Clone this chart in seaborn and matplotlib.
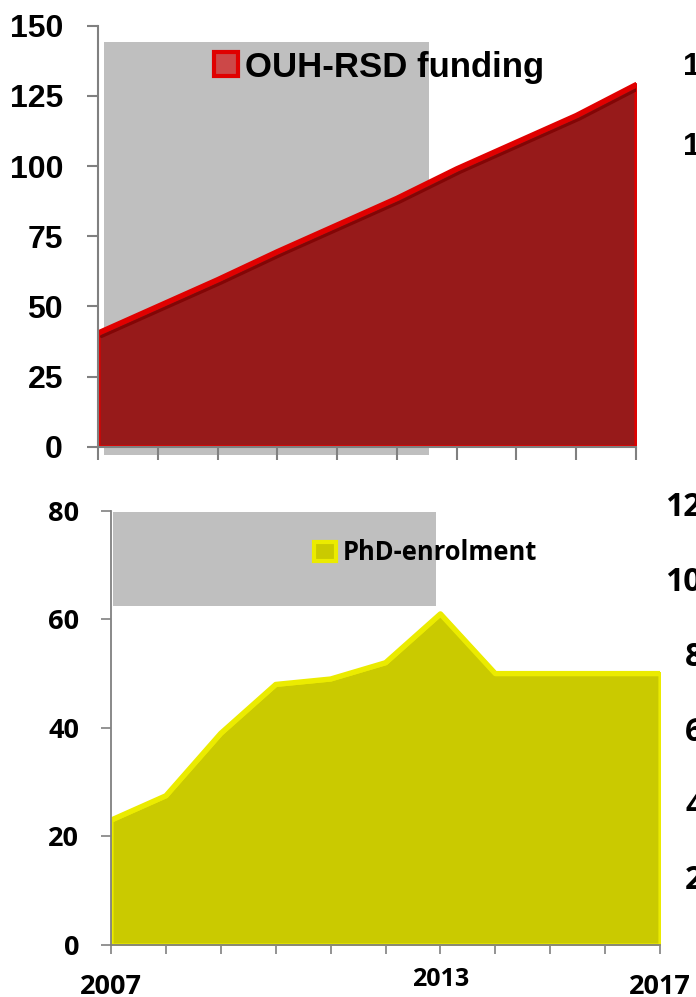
import matplotlib
matplotlib.use("Agg")
import matplotlib.pyplot as plt
import matplotlib.transforms as mtransforms
from matplotlib.patches import Rectangle, Patch
import seaborn as sns
import pandas as pd

# ---------------- data ----------------
funding_years = [2008, 2009, 2010, 2011, 2012, 2013, 2014, 2015, 2016, 2017]
funding_values = [40.5, 50, 59.5, 69.5, 79, 88.5, 99, 108.5, 118, 129]
funding_yticks = [0, 25, 50, 75, 100, 125, 150]
funding_label = "OUH-RSD funding"

phd_years = [2007, 2008, 2009, 2010, 2011, 2012, 2013, 2014, 2015, 2016, 2017]
phd_values = [23, 27.5, 39, 48, 49, 52, 61, 50, 50, 50, 50]
phd_yticks = [0, 20, 40, 60, 80]
phd_major_labels = ["2007", "", "", "", "", "", "", "", "", "", "2017"]
phd_minor_years = [2013]
phd_minor_labels = ["2013"]
phd_label = "PhD-enrolment"

# cut-off labels of neighbouring charts (right edge)
right_top_labels = ["1", "1"]
right_bottom_labels = ["120", "100", "80", "60", "40", "20"]

# ---------------- layout helpers ----------------
W, H = 696, 997
sns.set_theme(style="white")
fig = plt.figure(figsize=(W / 100, H / 100), dpi=100)


def fx(px):
    return px / W


def fy(py):
    return 1 - py / H


GREY = "#BFBFBF"
AXC = "#808080"
TOPFONT = "Liberation Sans"
BOTFONT = "Open Sans"

# grey boxes behind legends
fig.add_artist(Rectangle((fx(104), fy(455)), (429 - 104) / W, (455 - 42) / H,
                         transform=fig.transFigure, facecolor=GREY,
                         edgecolor="none", zorder=-5))
fig.add_artist(Rectangle((fx(113), fy(606)), (436 - 113) / W, (606 - 512) / H,
                         transform=fig.transFigure, facecolor=GREY,
                         edgecolor="none", zorder=-5))

# ---------------- top panel ----------------
ax1 = fig.add_axes([fx(98), fy(446.7), (636 - 98) / W, (446.7 - 25.7) / H])
ax1.set_facecolor("none")
df1 = pd.DataFrame({"year": funding_years, "value": funding_values})
ax1.fill_between(df1["year"], 0, df1["value"], facecolor="#971A1A",
                 edgecolor="#E00000", linewidth=3.0, zorder=1)
shadow = mtransforms.offset_copy(ax1.transData, fig=fig, x=3.5, y=-3.5, units="dots")
ax1.plot(df1["year"], df1["value"], color="#820606", lw=2.2, transform=shadow,
         zorder=2, solid_joinstyle="miter")
sns.lineplot(data=df1, x="year", y="value", ax=ax1, color="#E00000", lw=3.8,
             zorder=3)
ax1.set_xlim(funding_years[0], funding_years[-1])
ax1.set_ylim(0, 150)
ax1.set_yticks(funding_yticks)
ax1.set_yticklabels([str(v) for v in funding_yticks])
ax1.set_xticks(funding_years)
ax1.set_xticklabels([])
ax1.set_xlabel("")
ax1.set_ylabel("")
for s in ["top", "right"]:
    ax1.spines[s].set_visible(False)
for s in ["left", "bottom"]:
    ax1.spines[s].set_color(AXC)
    ax1.spines[s].set_linewidth(1.5)
    ax1.spines[s].set_zorder(5)
ax1.tick_params(axis="y", left=True, length=7.9, width=1.5, color=AXC,
                pad=17.3, labelsize=23)
ax1.tick_params(axis="x", bottom=True, length=9.4, width=1.5, color=AXC)
for lab in ax1.get_yticklabels():
    lab.set_fontfamily(TOPFONT)
    lab.set_fontweight("bold")
    lab.set_color("black")

h1 = Patch(facecolor="#CC4848", edgecolor="#E00000", linewidth=3)
leg1 = ax1.legend([h1], [funding_label], loc="center left",
                  bbox_to_anchor=(fx(214), fy(67)), bbox_transform=fig.transFigure,
                  frameon=False, borderpad=0, borderaxespad=0,
                  handlelength=0.68, handleheight=0.68, handletextpad=0.2,
                  prop={"family": TOPFONT, "weight": "bold", "size": 25})
for t in leg1.get_texts():
    t.set_color("black")

# ---------------- bottom panel ----------------
ax2 = fig.add_axes([fx(111), fy(945), (660 - 111) / W, (945 - 510.7) / H])
ax2.set_facecolor("none")
df2 = pd.DataFrame({"year": phd_years, "value": phd_values})
ax2.fill_between(df2["year"], 0, df2["value"], facecolor="#CACA00",
                 edgecolor="#EBEB00", linewidth=3.0, zorder=1)
sns.lineplot(data=df2, x="year", y="value", ax=ax2, color="#EBEB00", lw=3.8,
             zorder=3)
ax2.set_xlim(phd_years[0], phd_years[-1])
ax2.set_ylim(0, 80)
ax2.set_yticks(phd_yticks)
ax2.set_yticklabels([str(v) for v in phd_yticks])
ax2.xaxis.remove_overlapping_locs = False
ax2.set_xticks(phd_years)
ax2.set_xticklabels(phd_major_labels)
ax2.set_xticks(phd_minor_years, minor=True)
ax2.set_xticklabels(phd_minor_labels, minor=True)
ax2.set_xlabel("")
ax2.set_ylabel("")
for s in ["top", "right"]:
    ax2.spines[s].set_visible(False)
for s in ["left", "bottom"]:
    ax2.spines[s].set_color(AXC)
    ax2.spines[s].set_linewidth(1.3)
    ax2.spines[s].set_zorder(5)
ax2.tick_params(axis="y", left=True, length=7.2, width=1.2, color=AXC,
                pad=15.8, labelsize=19.5)
ax2.tick_params(axis="x", which="major", bottom=True, length=6.5, width=1.2,
                color=AXC, pad=14.5, labelsize=19.5)
ax2.tick_params(axis="x", which="minor", bottom=True, length=0, pad=15.5,
                labelsize=18)
for lab in ax2.get_yticklabels() + ax2.get_xticklabels() + ax2.get_xticklabels(minor=True):
    lab.set_fontfamily(BOTFONT)
    lab.set_fontweight("bold")
    lab.set_color("black")

h2 = Patch(facecolor="#CACA00", edgecolor="#EBEB00", linewidth=3)
leg2 = ax2.legend([h2], [phd_label], loc="center left",
                  bbox_to_anchor=(fx(314), fy(553)), bbox_transform=fig.transFigure,
                  frameon=False, borderpad=0, borderaxespad=0,
                  handlelength=0.86, handleheight=0.74, handletextpad=0.27,
                  prop={"family": BOTFONT, "weight": "bold", "size": 18.4})
for t in leg2.get_texts():
    t.set_color("black")

# ---------------- cut-off neighbouring labels ----------------
for lab, y in zip(right_top_labels, [67, 147]):
    fig.text(fx(683), fy(y), lab, ha="left", va="center", family=TOPFONT,
             weight="bold", size=23, color="black")
for lab, x, y in zip(right_bottom_labels, [665, 665, 685, 685, 685, 685],
                     [508, 582, 657, 732, 807, 880]):
    fig.text(fx(x), fy(y), lab, ha="left", va="center", family=BOTFONT,
             weight="bold", size=23, color="black")

fig.savefig("out.png", dpi=100)
